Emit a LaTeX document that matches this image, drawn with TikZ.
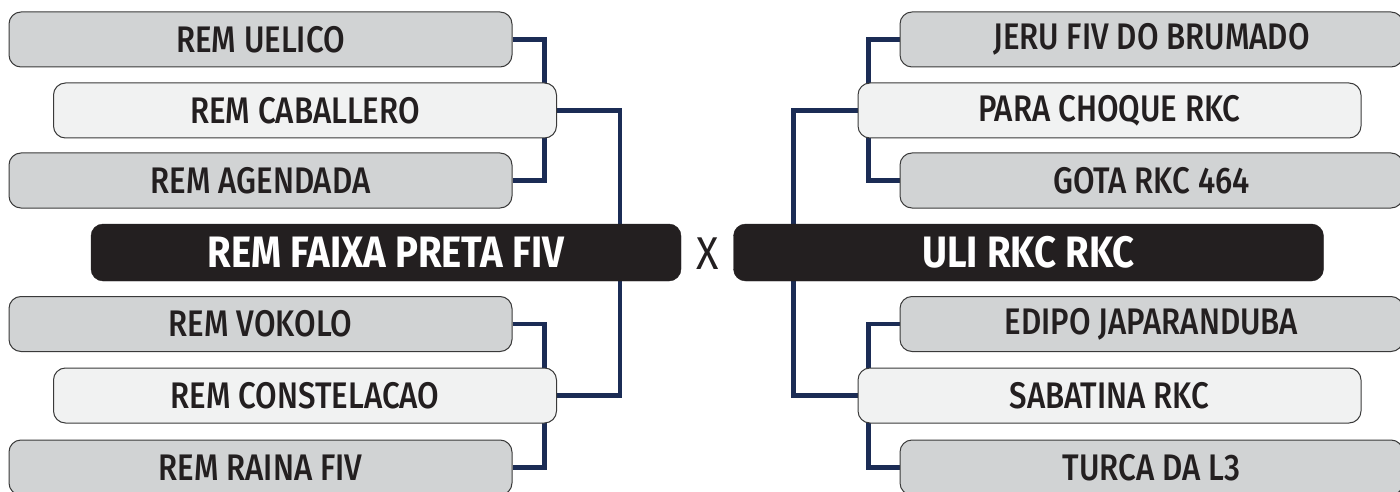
\documentclass[tikz,border=0pt]{standalone}
\usepackage{fontspec}
\setmainfont{Fira Sans}
\newfontfamily\lblfont{Fira Sans Medium}[FakeStretch=0.845]
\newfontfamily\bigfont{Fira Sans}[FakeStretch=0.87,BoldFont={Fira Sans Bold}]
\newfontfamily\vsfont{Fira Sans}[FakeStretch=0.9]
\usetikzlibrary{positioning}
\pgfdeclarelayer{bg}
\pgfsetlayers{bg,main}
\definecolor{navy}{HTML}{1B2C55}
\definecolor{ink}{HTML}{231F20}
\definecolor{boxgray}{HTML}{D1D3D4}
\definecolor{boxlight}{HTML}{F1F2F2}
\definecolor{edge}{HTML}{3A3A3A}
\tikzset{
  x=1pt, y=-1pt,
  team/.style={rectangle, rounded corners=12pt, draw=edge, line width=1pt,
    minimum height=55pt, inner sep=0pt, text=ink, font=\lblfont\fontsize{37}{42}\selectfont},
  grayteam/.style={team, fill=boxgray, minimum width=503pt},
  lightteam/.style={team, fill=boxlight, minimum width=503pt},
  champ/.style={rectangle, rounded corners=12pt, fill=ink, draw=ink,
    minimum height=57pt, minimum width=590pt, inner sep=0pt, text=white,
    font=\bigfont\bfseries\fontsize{44}{48}\selectfont},
  conn/.style={draw=navy, line width=4.5pt}
}
\begin{document}
\begin{tikzpicture}
\useasboundingbox (0,0) rectangle (1400,492);
\clip (0,0) rectangle (1400,492);
% left side
\node[grayteam]  (uelico)      at (260.5,39.5)  {REM UELICO};
\node[lightteam] (caballero)   at (305,110.5)   {REM CABALLERO};
\node[grayteam]  (agendada)    at (260.5,180.5) {REM AGENDADA};
\node[champ]     (faixa)       at (386,252.5)   {REM FAIXA PRETA FIV};
\node[grayteam]  (vokolo)      at (260.5,324)   {REM VOKOLO};
\node[lightteam] (constelacao) at (305,395.5)   {REM CONSTELACAO};
\node[grayteam]  (raina)       at (260.5,467.5) {REM RAINA FIV};
% right side
\node[grayteam]  (jeru)        at (1151.5,39.5)  {JERU FIV DO BRUMADO};
\node[lightteam] (para)        at (1109.5,110.5) {PARA CHOQUE RKC};
\node[grayteam]  (gota)        at (1151.5,180.5) {GOTA RKC 464};
\node[champ]     (uli)         at (1028.5,252.5) {ULI RKC RKC};
\node[grayteam]  (edipo)       at (1151.5,324)   {EDIPO JAPARANDUBA};
\node[lightteam] (sabatina)    at (1109.5,395.5) {SABATINA RKC};
\node[grayteam]  (turca)       at (1151.5,467.5) {TURCA DA L3};
% versus
\node[text=ink, font=\vsfont\fontsize{46}{50}\selectfont] (vs) at (708,254) {X};
% connectors
\begin{pgfonlayer}{bg}
\draw[conn] (uelico.east) -- ++(32,0) |- (agendada.east);
\draw[conn] (caballero.east) -- ++(63,0) |- (constelacao.east);
\draw[conn] (vokolo.east) -- ++(32,0) |- (raina.east);
\draw[conn] (jeru.west) -- ++(-31,0) |- (gota.west);
\draw[conn] (para.west) -- ++(-64,0) |- (sabatina.west);
\draw[conn] (edipo.west) -- ++(-31,0) |- (turca.west);
\end{pgfonlayer}
\end{tikzpicture}
\end{document}
